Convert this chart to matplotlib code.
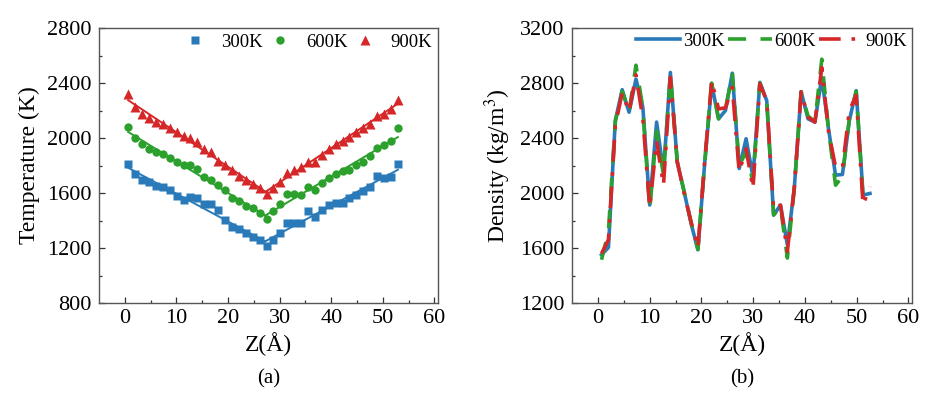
import numpy as np
import matplotlib
matplotlib.use('Agg')
from matplotlib import pyplot as plt

plt.rcParams['font.family'] = ['Liberation Serif', 'DejaVu Serif']
plt.rcParams['mathtext.fontset'] = 'stix'
plt.rcParams['xtick.direction'] = 'in'
plt.rcParams['ytick.direction'] = 'in'

# (a) 温度分布
z_temp = [0.65, 1.99, 3.33, 4.67, 6.01, 7.35, 8.69, 10.03, 11.37, 12.71,
          14.05, 15.39, 16.73, 18.07, 19.41, 20.75, 22.09, 23.43, 24.77, 26.11,
          27.45, 28.79, 30.13, 31.47, 32.81, 34.15, 35.49, 36.83, 38.17, 39.51,
          40.85, 42.19, 43.53, 44.87, 46.21, 47.55, 48.89, 50.23, 51.57, 52.91]
t_300 = [1810, 1735, 1698, 1678, 1654, 1647, 1620, 1581, 1551, 1571,
         1561, 1517, 1517, 1478, 1402, 1351, 1341, 1307, 1280, 1260,
         1214, 1255, 1312, 1385, 1382, 1382, 1470, 1426, 1473, 1510,
         1527, 1529, 1561, 1588, 1617, 1642, 1722, 1708, 1715, 1808]
t_600 = [2084, 2001, 1955, 1921, 1899, 1886, 1852, 1825, 1801, 1801,
         1774, 1715, 1698, 1661, 1625, 1566, 1541, 1507, 1493, 1458,
         1412, 1466, 1517, 1590, 1590, 1583, 1642, 1620, 1671, 1708,
         1737, 1759, 1771, 1806, 1825, 1867, 1928, 1948, 1982, 2070]
t_900 = [2319, 2229, 2172, 2143, 2119, 2104, 2075, 2043, 2018, 2001,
         1969, 1923, 1896, 1835, 1806, 1771, 1727, 1698, 1664, 1634,
         1593, 1634, 1683, 1744, 1769, 1786, 1825, 1823, 1879, 1923,
         1957, 1977, 2008, 2045, 2075, 2099, 2160, 2177, 2209, 2275]

# (b) 密度分布
z_dens = [0.70, 2.03, 3.36, 4.69, 6.02, 7.35, 8.68, 10.01, 11.34, 12.67,
          14.00, 15.33, 16.66, 17.99, 19.32, 20.65, 21.98, 23.31, 24.64, 25.97,
          27.30, 28.63, 29.96, 31.29, 32.62, 33.95, 35.28, 36.61, 37.94, 39.27,
          40.60, 41.93, 43.26, 44.59, 45.92, 47.25, 48.58, 49.91, 51.24, 52.57]
d_300 = [1551, 1604, 2527, 2752, 2588, 2829, 2624, 1913, 2516, 2154,
         2877, 2226, 2010, 1780, 1587, 2226, 2793, 2540, 2600, 2872,
         2178, 2395, 2118, 2805, 2672, 1840, 1912, 1623, 2033, 2737,
         2540, 2516, 2841, 2460, 2130, 2135, 2527, 2745, 1985, 1997]
d_600 = [1515, 1720, 2520, 2740, 2590, 2930, 2620, 1880, 2450, 2130,
         2870, 2226, 2010, 1790, 1590, 2226, 2800, 2540, 2610, 2872,
         2200, 2300, 2080, 2800, 2672, 1840, 1900, 1527, 2033, 2737,
         2560, 2520, 2974, 2450, 2057, 2120, 2540, 2740, 1960, 2000]
d_900 = [1560, 1660, 2490, 2730, 2590, 2860, 2540, 1895, 2380, 2057,
         2841, 2226, 2000, 1790, 1600, 2240, 2817, 2612, 2620, 2769,
         2155, 2323, 2033, 2795, 2672, 1880, 1912, 1575, 2033, 2737,
         2552, 2516, 2913, 2440, 2190, 2180, 2600, 2710, 1913, 2046]

labels = ['300K', '600K', '900K']
colors = ['#2a7ab9', '#2ca02c', '#d62728']
markers = ['s', 'o', '^']
msizes = [5.5, 6.0, 6.5]

fig = plt.figure(figsize=(9.46, 3.99), dpi=100)
ax1 = fig.add_axes([0.1047, 0.2406, 0.3584, 0.689])
ax2 = fig.add_axes([0.6047, 0.2406, 0.3594, 0.689])


def v_fit(x, y):
    # 两侧分别线性拟合，交点处相接
    x = np.array(x)
    y = np.array(y)
    k = int(np.argmin(y))
    p1 = np.polyfit(x[:k + 1], y[:k + 1], 1)
    p2 = np.polyfit(x[k:], y[k:], 1)
    xc = (p2[1] - p1[1]) / (p1[0] - p2[0])
    xl = np.array([x[0], xc])
    xr = np.array([xc, x[-1]])
    return xl, np.polyval(p1, xl), xr, np.polyval(p2, xr)


for t, c, m, ms, lab in zip([t_300, t_600, t_900], colors, markers, msizes, labels):
    ax1.plot(z_temp, t, m, color=c, ms=ms, mec='none', label=lab)
    xl, yl, xr, yr = v_fit(z_temp, t)
    ax1.plot(xl, yl, '-', color=c, lw=1.4)
    ax1.plot(xr, yr, '-', color=c, lw=1.4)

styles = [dict(ls='-'), dict(ls=(0, (5, 4))), dict(ls=(0, (6, 3, 1, 3)))]
for d, c, st, lab in zip([d_300, d_600, d_900], colors, styles, labels):
    ax2.plot(z_dens, d, color=c, lw=2.6, label=lab, **st)

for ax in (ax1, ax2):
    ax.set_xlim(-5, 60.7)
    ax.set_xticks(range(0, 61, 10))
    ax.set_xticks(range(5, 60, 10), minor=True)
    ax.tick_params(which='major', length=4, width=0.9, labelsize=16,
                   colors='#333333', labelcolor='black')
    ax.tick_params(axis='y', which='major', pad=5.5)
    ax.tick_params(axis='x', which='major', pad=4)
    ax.tick_params(which='minor', length=2.5, width=0.9, colors='#333333')
    for s in ax.spines.values():
        s.set_color('#555555')
        s.set_linewidth(1.0)
    ax.set_xlabel('Z(Å)', fontsize=17, labelpad=3)

ax1.set_ylim(800, 2800)
ax1.set_yticks(range(800, 2801, 400))
ax1.set_yticks(range(1000, 2800, 400), minor=True)
ax1.set_ylabel('Temperature (K)', fontsize=17, labelpad=5)

ax2.set_ylim(1200, 3200)
ax2.set_yticks(range(1200, 3201, 400))
ax2.set_yticks(range(1400, 3200, 400), minor=True)
ax2.set_ylabel('Density (kg/m$^3$)', fontsize=17, labelpad=5)

ax1.legend(loc='upper right', ncol=3, frameon=False, fontsize=13.5,
           handlelength=0.8, handletextpad=1.0, columnspacing=0.5,
           borderaxespad=0.1, borderpad=0.2)
ax2.legend(loc='upper right', ncol=3, frameon=False, fontsize=13.5,
           handlelength=2.35, handletextpad=0.15, columnspacing=0.15,
           borderaxespad=0.05, borderpad=0.2)

fig.text(0.2839, 0.05, '(a)', ha='center', va='center', fontsize=15)
fig.text(0.7844, 0.05, '(b)', ha='center', va='center', fontsize=15)

fig.savefig('out.png', dpi=100)
